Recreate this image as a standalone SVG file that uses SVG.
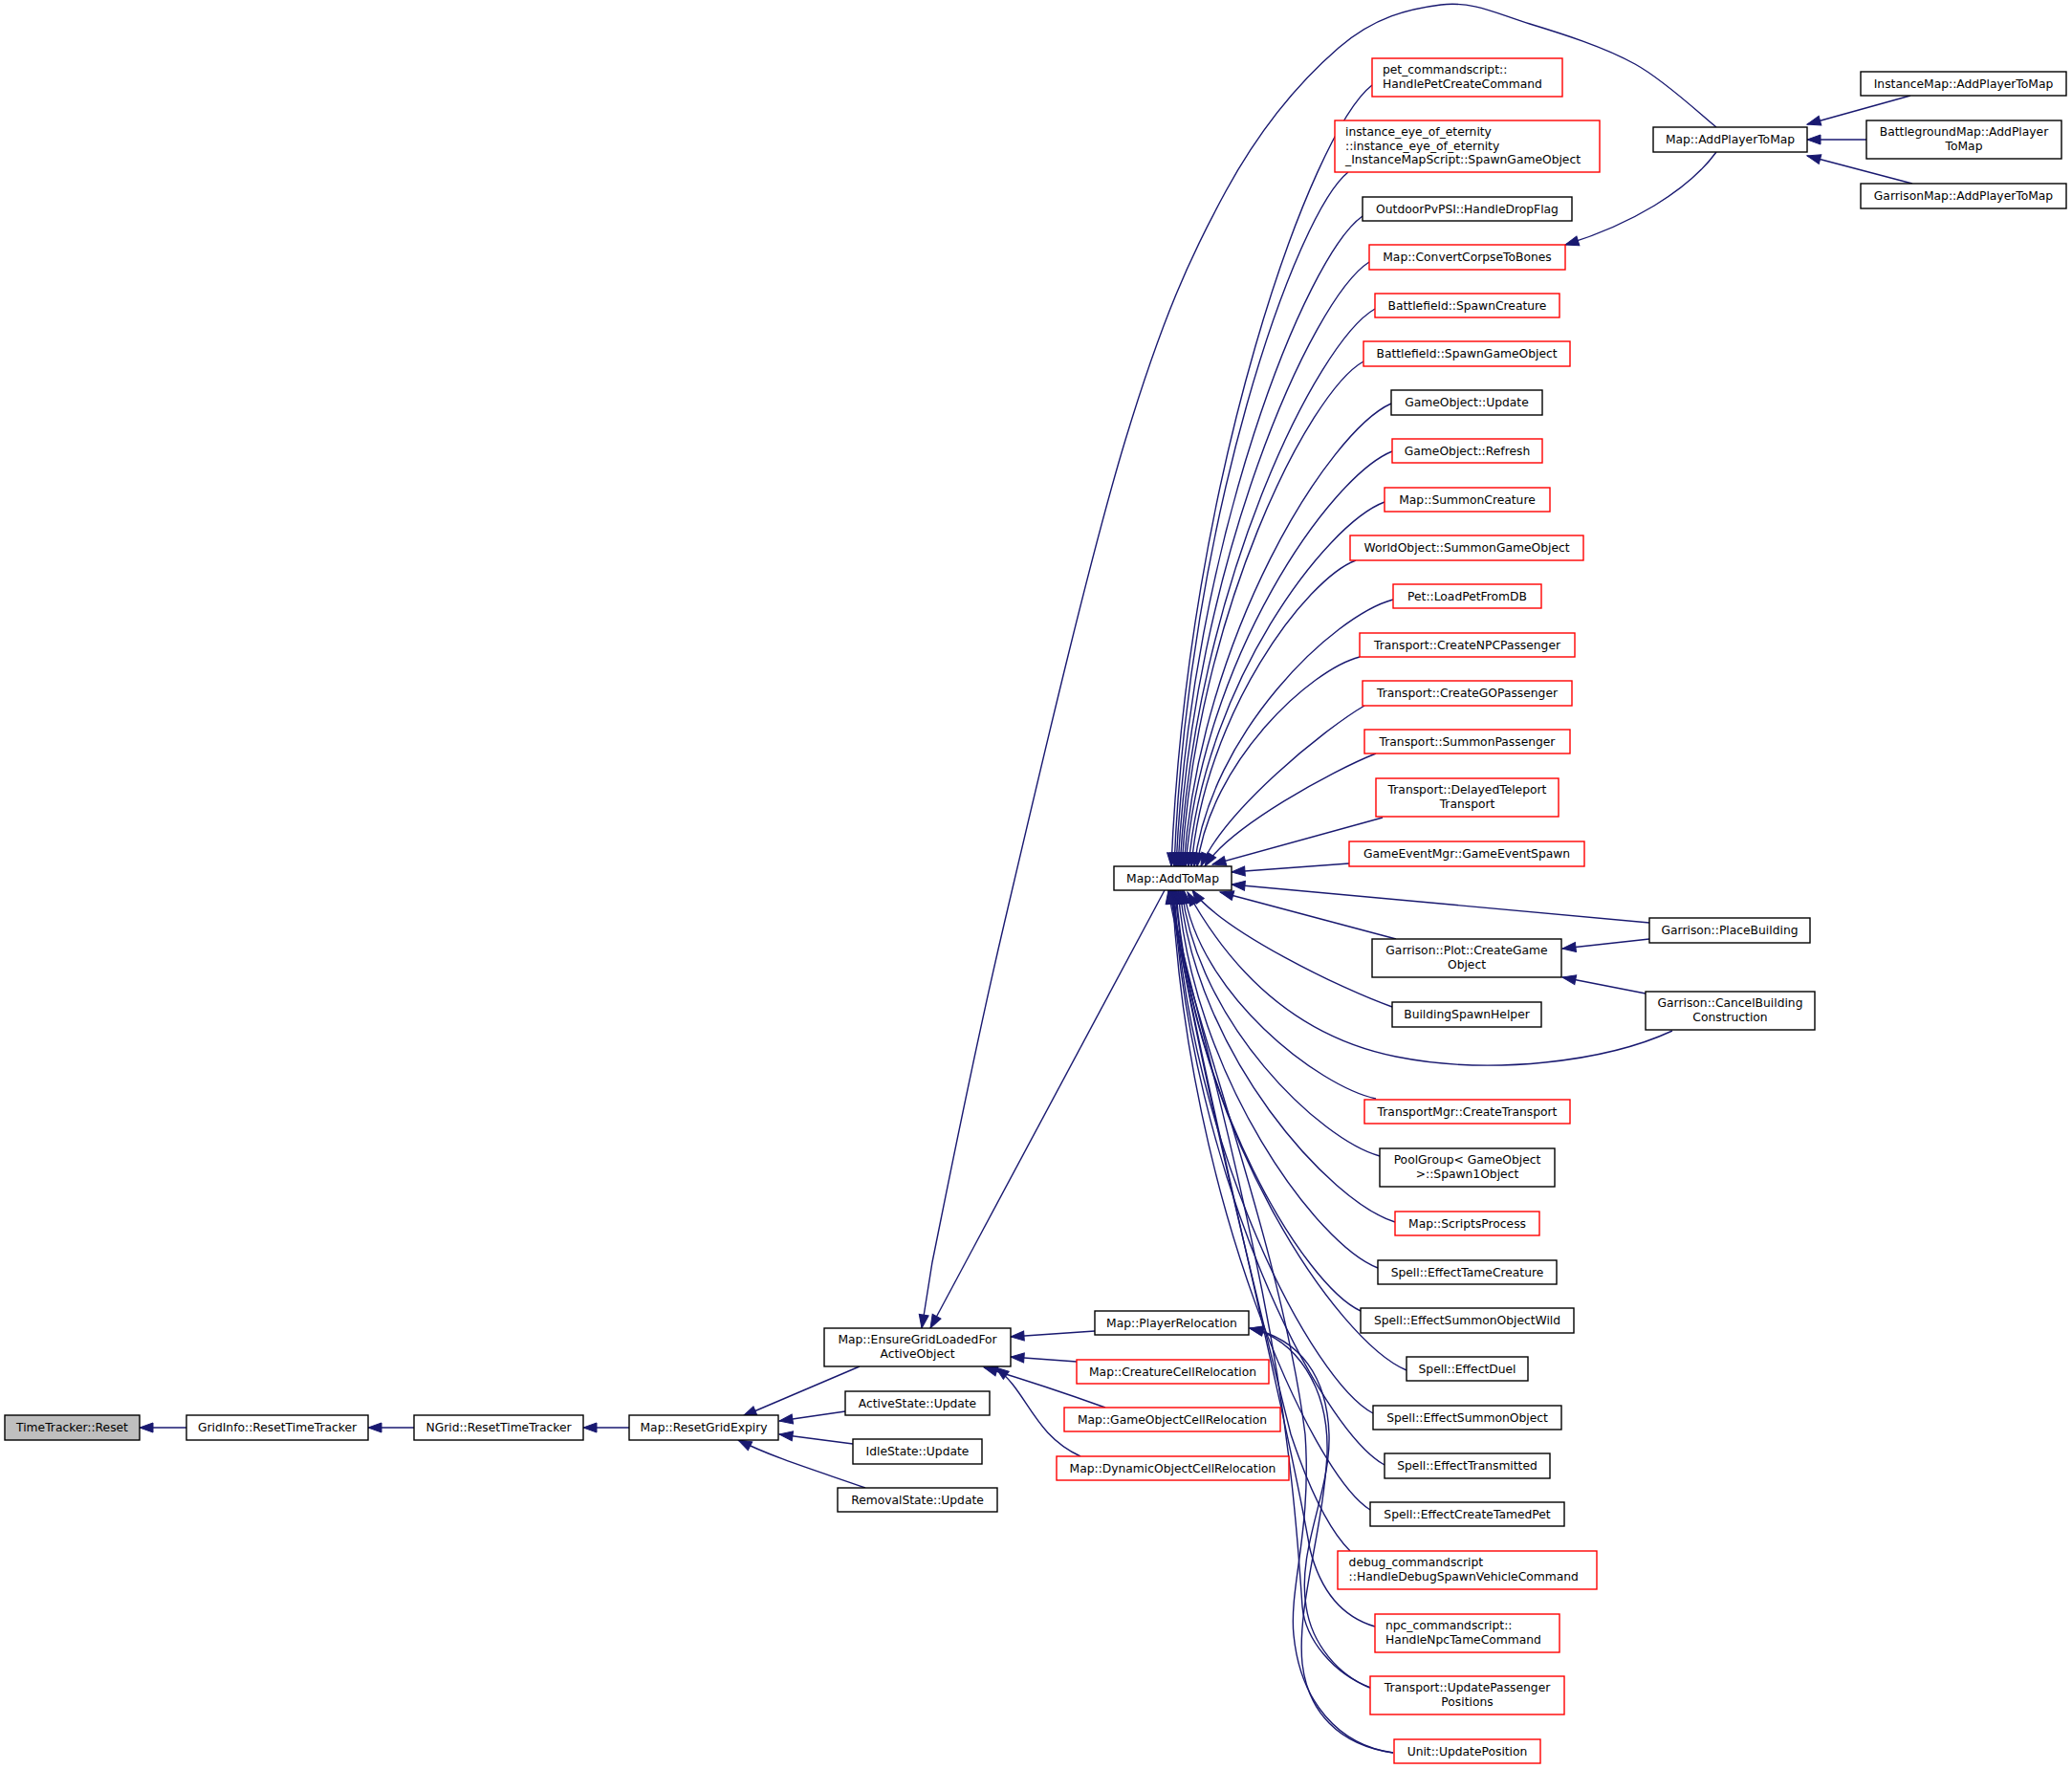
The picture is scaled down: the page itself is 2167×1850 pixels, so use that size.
<svg xmlns="http://www.w3.org/2000/svg" width="2167" height="1850" viewBox="0 0 2167 1850">
<defs>
<style>
rect{fill:#fff;stroke:#000;stroke-width:1.4}
.r rect{stroke:#f00}
.g rect{fill:#bfbfbf}
text{font-family:"DejaVu Sans","Liberation Sans",sans-serif;font-size:12.3px;fill:#000;text-anchor:middle}
.l text{text-anchor:start}
#edges path{fill:none;stroke:#191970;stroke-width:1.4;marker-end:url(#a)}
</style>
<marker id="a" markerWidth="15" markerHeight="11" refX="14" refY="5" orient="auto" markerUnits="userSpaceOnUse" overflow="visible"><path d="M0,0L14,5L0,10z" fill="#191970" stroke="#191970" stroke-width="1"/></marker>
</defs>
<rect x="0" y="0" width="2167" height="1850" style="fill:#fff;stroke:none"/>
<g id="edges">
<path d="M195,1493L146,1493"/>
<path d="M433,1493L385,1493"/>
<path d="M658,1493L610,1493"/>
<path d="M899,1429L777,1481"/>
<path d="M884,1476L815,1486"/>
<path d="M892,1510L815,1500"/>
<path d="M905,1556C860,1540 810,1525 772,1506"/>
<path d="M1145,1392L1057,1398"/>
<path d="M1126,1424L1057,1419"/>
<path d="M1156,1472Q1095,1450 1029,1430"/>
<path d="M1130,1523C1080,1500 1075,1455 1041,1430"/>
<path d="M1218,931L973,1389"/>
<path d="M1795,133C1780.8,122 1742.5,85 1710,67C1677.5,49 1633.8,35.3 1600,25C1566.2,14.7 1540.3,0.8 1507,5C1473.7,9.2 1437.5,17.5 1400,50C1362.5,82.5 1319.2,131.7 1282,200C1244.8,268.3 1215.7,332.2 1177,460C1138.3,587.8 1083.7,823.7 1050,967C1016.3,1110.3 989.3,1250.2 975,1320L964,1389"/>
<path d="M1998,100L1890,130"/>
<path d="M1952,146L1890,146"/>
<path d="M2000,192L1890,163"/>
<path d="M1795,159C1765,200 1705,235 1637,256"/>
<path d="M1435,89C1372,138 1242,497.5 1225,906"/>
<path d="M1410,180C1355.4,223.6 1242.6,543 1228,906"/>
<path d="M1425,226C1366.5,266.8 1245.6,566 1230,906"/>
<path d="M1432,274C1372,312 1248,590 1232,906"/>
<path d="M1438,323C1376.8,358 1250.3,614.5 1234,906"/>
<path d="M1426,378C1369,409.7 1251.2,642 1236,906"/>
<path d="M1455,422C1389.9,451 1255.4,664 1238,906"/>
<path d="M1456,472C1391.2,498 1257.3,689 1240,906"/>
<path d="M1448,525C1386.5,547.9 1259.4,715.5 1243,906"/>
<path d="M1418,586C1366.4,605.2 1259.8,746 1246,906"/>
<path d="M1457,627C1394.6,643.7 1265.6,766.5 1249,906"/>
<path d="M1422,687C1371,700 1265.6,796.5 1252,906"/>
<path d="M1427,738C1384,763.2 1280.8,847.2 1256,906"/>
<path d="M1439,788C1394,805.7 1286,864.7 1260,906"/>
<path d="M1446,855L1268,904"/>
<path d="M1411,903L1288,912"/>
<path d="M1725,965L1288,925"/>
<path d="M1460,982L1276,933"/>
<path d="M1725,982L1634,992"/>
<path d="M1721,1039L1634,1022"/>
<path d="M1456,1053C1403.8,1034.7 1278,973.7 1247,931"/>
<path d="M1749,1078C1680,1110 1560,1125 1460,1105C1360,1085 1290,1020 1242,933"/>
<path d="M1439,1149C1378.7,1135.9 1254,1040 1238,931"/>
<path d="M1443,1209C1381,1192.3 1252.6,1070 1236,931"/>
<path d="M1459,1278C1391.5,1257.2 1252,1104.5 1234,931"/>
<path d="M1441,1326C1378.3,1302.3 1248.7,1128.5 1232,931"/>
<path d="M1423,1371C1365,1344.6 1245.4,1151 1230,931"/>
<path d="M1471,1433C1398.4,1402.9 1248.4,1182 1229,931"/>
<path d="M1436,1478C1373.6,1445.2 1244.6,1204.5 1228,931"/>
<path d="M1448,1532C1381.7,1496 1244.7,1231.5 1227,931"/>
<path d="M1433,1579C1371,1540 1242.6,1255 1226,931"/>
<path d="M1412,1622C1390,1600 1370,1560 1350,1500C1300,1300 1240,1050 1225,931"/>
<path d="M1438,1701C1400,1690 1380,1660 1370,1620C1340,1450 1250,1100 1224,931"/>
<path d="M1433,1765C1395,1750 1365,1715 1362,1680C1358,1620 1350,1500 1320,1350C1280,1150 1235,1000 1223,931"/>
<path d="M1457,1833C1400,1825 1360,1780 1353,1710C1348,1660 1372,1600 1365,1500C1340,1300 1240,1050 1222,931"/>
<path d="M1433,1765C1400,1752 1372,1720 1366,1680C1356,1620 1392,1560 1390,1500C1388,1440 1360,1400 1307,1389"/>
<path d="M1457,1833C1400,1825 1368,1790 1362,1740C1356,1680 1384,1600 1388,1520C1390,1450 1355,1400 1307,1389"/>
</g>
<g id="n1" class="g"><rect x="5" y="1480" width="141" height="26"/><text x="75.5" y="1497">TimeTracker::Reset</text></g>
<g id="n2"><rect x="195" y="1480" width="190" height="26"/><text x="290" y="1497">GridInfo::ResetTimeTracker</text></g>
<g id="n3"><rect x="433" y="1480" width="177" height="26"/><text x="521.5" y="1497">NGrid::ResetTimeTracker</text></g>
<g id="n4"><rect x="658" y="1480" width="156" height="26"/><text x="736" y="1497">Map::ResetGridExpiry</text></g>
<g id="n5"><rect x="862" y="1389" width="195" height="40"/><text x="959.5" y="1405">Map::EnsureGridLoadedFor</text><text x="959.5" y="1420">ActiveObject</text></g>
<g id="n6"><rect x="884" y="1455" width="151" height="25"/><text x="959.5" y="1471.5">ActiveState::Update</text></g>
<g id="n7"><rect x="892" y="1505" width="135" height="26"/><text x="959.5" y="1522">IdleState::Update</text></g>
<g id="n8"><rect x="876" y="1556" width="167" height="25"/><text x="959.5" y="1572.5">RemovalState::Update</text></g>
<g id="n9"><rect x="1145" y="1371" width="161" height="25"/><text x="1225.5" y="1387.5">Map::PlayerRelocation</text></g>
<g id="n10" class="r"><rect x="1126" y="1422" width="201" height="25"/><text x="1226.5" y="1438.5">Map::CreatureCellRelocation</text></g>
<g id="n11" class="r"><rect x="1113" y="1472" width="226" height="25"/><text x="1226" y="1488.5">Map::GameObjectCellRelocation</text></g>
<g id="n12" class="r"><rect x="1105" y="1523" width="243" height="25"/><text x="1226.5" y="1539.5">Map::DynamicObjectCellRelocation</text></g>
<g id="n13"><rect x="1165" y="906" width="123" height="25"/><text x="1226.5" y="922.5">Map::AddToMap</text></g>
<g id="n14"><rect x="1729" y="133" width="161" height="26"/><text x="1809.5" y="150">Map::AddPlayerToMap</text></g>
<g id="n15"><rect x="1946" y="75" width="215" height="25"/><text x="2053.5" y="91.5">InstanceMap::AddPlayerToMap</text></g>
<g id="n16"><rect x="1952" y="126" width="204" height="40"/><text x="2054" y="142">BattlegroundMap::AddPlayer</text><text x="2054" y="156.7">ToMap</text></g>
<g id="n17"><rect x="1946" y="192" width="215" height="26"/><text x="2053.5" y="209">GarrisonMap::AddPlayerToMap</text></g>
<g id="n18" class="r l"><rect x="1435" y="61" width="199" height="40"/><text x="1446" y="77">pet_commandscript::</text><text x="1446" y="91.7">HandlePetCreateCommand</text></g>
<g id="n19" class="r l"><rect x="1396" y="126" width="277" height="54"/><text x="1407" y="142">instance_eye_of_eternity</text><text x="1407" y="156.5">::instance_eye_of_eternity</text><text x="1407" y="171">_InstanceMapScript::SpawnGameObject</text></g>
<g id="n20"><rect x="1425" y="206" width="219" height="25"/><text x="1534.5" y="222.5">OutdoorPvPSI::HandleDropFlag</text></g>
<g id="n21" class="r"><rect x="1432" y="256" width="205" height="26"/><text x="1534.5" y="273">Map::ConvertCorpseToBones</text></g>
<g id="n22" class="r"><rect x="1438" y="307" width="193" height="25"/><text x="1534.5" y="323.5">Battlefield::SpawnCreature</text></g>
<g id="n23" class="r"><rect x="1426" y="357" width="216" height="26"/><text x="1534" y="374">Battlefield::SpawnGameObject</text></g>
<g id="n24"><rect x="1455" y="408" width="158" height="26"/><text x="1534" y="425">GameObject::Update</text></g>
<g id="n25" class="r"><rect x="1456" y="459" width="157" height="25"/><text x="1534.5" y="475.5">GameObject::Refresh</text></g>
<g id="n26" class="r"><rect x="1448" y="510" width="173" height="25"/><text x="1534.5" y="526.5">Map::SummonCreature</text></g>
<g id="n27" class="r"><rect x="1412" y="560" width="244" height="26"/><text x="1534" y="577">WorldObject::SummonGameObject</text></g>
<g id="n28" class="r"><rect x="1457" y="611" width="155" height="25"/><text x="1534.5" y="627.5">Pet::LoadPetFromDB</text></g>
<g id="n29" class="r"><rect x="1422" y="662" width="225" height="25"/><text x="1534.5" y="678.5">Transport::CreateNPCPassenger</text></g>
<g id="n30" class="r"><rect x="1425" y="712" width="219" height="26"/><text x="1534.5" y="729">Transport::CreateGOPassenger</text></g>
<g id="n31" class="r"><rect x="1427" y="763" width="215" height="25"/><text x="1534.5" y="779.5">Transport::SummonPassenger</text></g>
<g id="n32" class="r"><rect x="1439" y="814" width="191" height="40"/><text x="1534.5" y="830">Transport::DelayedTeleport</text><text x="1534.5" y="844.7">Transport</text></g>
<g id="n33" class="r"><rect x="1411" y="880" width="246" height="26"/><text x="1534" y="897">GameEventMgr::GameEventSpawn</text></g>
<g id="n34"><rect x="1725" y="960" width="168" height="26"/><text x="1809" y="977">Garrison::PlaceBuilding</text></g>
<g id="n35"><rect x="1435" y="982" width="198" height="40"/><text x="1534" y="998">Garrison::Plot::CreateGame</text><text x="1534" y="1012.7">Object</text></g>
<g id="n36"><rect x="1721" y="1037" width="177" height="40"/><text x="1809.5" y="1053">Garrison::CancelBuilding</text><text x="1809.5" y="1067.7">Construction</text></g>
<g id="n37"><rect x="1456" y="1048" width="156" height="26"/><text x="1534" y="1065">BuildingSpawnHelper</text></g>
<g id="n38" class="r"><rect x="1427" y="1150" width="215" height="25"/><text x="1534.5" y="1166.5">TransportMgr::CreateTransport</text></g>
<g id="n39"><rect x="1443" y="1201" width="183" height="40"/><text x="1534.5" y="1217">PoolGroup&lt; GameObject</text><text x="1534.5" y="1231.7">&gt;::Spawn1Object</text></g>
<g id="n40" class="r"><rect x="1459" y="1267" width="151" height="25"/><text x="1534.5" y="1283.5">Map::ScriptsProcess</text></g>
<g id="n41"><rect x="1441" y="1318" width="187" height="25"/><text x="1534.5" y="1334.5">Spell::EffectTameCreature</text></g>
<g id="n42"><rect x="1423" y="1368" width="223" height="26"/><text x="1534.5" y="1385">Spell::EffectSummonObjectWild</text></g>
<g id="n43"><rect x="1471" y="1419" width="127" height="25"/><text x="1534.5" y="1435.5">Spell::EffectDuel</text></g>
<g id="n44"><rect x="1436" y="1470" width="197" height="25"/><text x="1534.5" y="1486.5">Spell::EffectSummonObject</text></g>
<g id="n45"><rect x="1448" y="1520" width="173" height="26"/><text x="1534.5" y="1537">Spell::EffectTransmitted</text></g>
<g id="n46"><rect x="1433" y="1571" width="203" height="25"/><text x="1534.5" y="1587.5">Spell::EffectCreateTamedPet</text></g>
<g id="n47" class="r l"><rect x="1399" y="1622" width="271" height="40"/><text x="1410.6" y="1638">debug_commandscript</text><text x="1410.6" y="1652.7">::HandleDebugSpawnVehicleCommand</text></g>
<g id="n48" class="r l"><rect x="1438" y="1688" width="193" height="40"/><text x="1449" y="1704">npc_commandscript::</text><text x="1449" y="1718.7">HandleNpcTameCommand</text></g>
<g id="n49" class="r"><rect x="1433" y="1753" width="203" height="40"/><text x="1534.5" y="1769">Transport::UpdatePassenger</text><text x="1534.5" y="1783.7">Positions</text></g>
<g id="n50" class="r"><rect x="1458" y="1819" width="153" height="25"/><text x="1534.5" y="1835.5">Unit::UpdatePosition</text></g>
</svg>
